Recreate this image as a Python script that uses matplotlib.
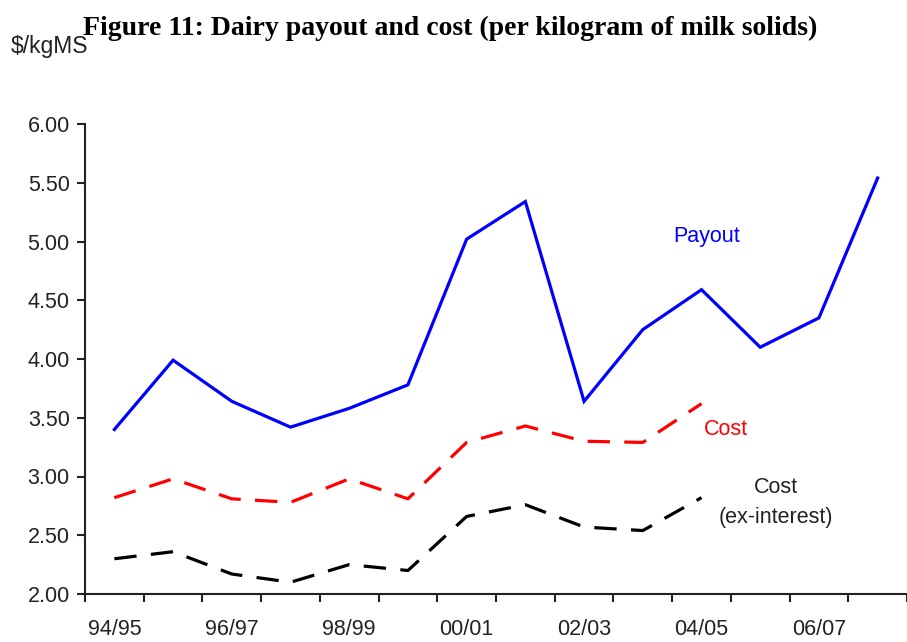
import numpy as np
import matplotlib
matplotlib.use("Agg")
import matplotlib.pyplot as plt

seasons = ["94/95", "95/96", "96/97", "97/98", "98/99", "99/00", "00/01",
           "01/02", "02/03", "03/04", "04/05", "05/06", "06/07", "07/08"]
payout = [3.40, 3.99, 3.64, 3.42, 3.58, 3.78, 5.02,
          5.34, 3.64, 4.25, 4.59, 4.10, 4.35, 5.54]
cost = [2.82, 2.98, 2.81, 2.78, 2.98, 2.81, 3.29,
        3.43, 3.30, 3.29, 3.62]
cost_ex_interest = [2.30, 2.36, 2.17, 2.10, 2.25, 2.20, 2.66,
                    2.76, 2.57, 2.54, 2.82]
y_ticks = [2.0, 2.5, 3.0, 3.5, 4.0, 4.5, 5.0, 5.5, 6.0]

plt.rcParams["font.family"] = ["Liberation Sans", "DejaVu Sans"]

fig = plt.figure(figsize=(9.07, 6.42), dpi=100)
ax = fig.add_axes([85 / 907, 1 - 594 / 642, 1 - 85 / 907, (594 - 124) / 642])

x = np.arange(len(seasons))
ax.plot(x, payout, color="#0000ff", lw=2.3, solid_joinstyle="miter")
ax.plot(x[:len(cost)], cost, color="#ff0000", lw=2.3, dashes=(7, 4.5))
ax.plot(x[:len(cost_ex_interest)], cost_ex_interest, color="black", lw=2.3,
        dashes=(7, 4.5))

ax.set_ylim(2.0, 6.0)
ax.set_xlim(-0.5, len(seasons) - 0.5 - 5 / 59.08)
ax.set_yticks(y_ticks)
ax.set_yticklabels([f"{v:.2f}" for v in y_ticks])
ax.set_xticks(x[::2])
ax.set_xticklabels(seasons[::2])
ax.set_xticks(np.arange(-0.5, len(seasons), 1.0), minor=True)

for side in ("top", "right"):
    ax.spines[side].set_visible(False)
for side in ("left", "bottom"):
    ax.spines[side].set_linewidth(1.5)
    ax.spines[side].set_color("#222222")

ax.tick_params(axis="y", direction="out", length=6, width=1.5, pad=5,
               labelsize=15.5, colors="#222222")
ax.tick_params(axis="x", which="major", length=0, pad=18, labelsize=15.5,
               colors="#222222")
ax.tick_params(axis="x", which="minor", direction="out", length=6, width=1.5,
               colors="#222222")

ax.text(10.08, 5.04, "Payout", color="#0000ff", fontsize=15.5, ha="center", va="center")
ax.text(10.42, 3.40, "Cost", color="#ff0000", fontsize=15.5, ha="center", va="center")
ax.text(11.26, 2.91, "Cost", color="#222222", fontsize=15.5, ha="center", va="center")
ax.text(11.26, 2.65, "(ex-interest)", color="#222222", fontsize=15.5, ha="center", va="center")

fig.text(450 / 907, 1 - 28 / 642,
         "Figure 11: Dairy payout and cost (per kilogram of milk solids)",
         fontsize=20, fontweight="bold", family="Liberation Serif",
         ha="center", va="center")
fig.text(11 / 907, 1 - 47 / 642, "$/kgMS", fontsize=16.5, ha="left", va="center",
         color="#222222")

fig.savefig("out.png", dpi=100)
